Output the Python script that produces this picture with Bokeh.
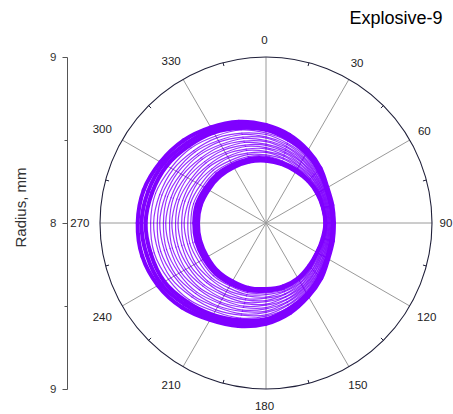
import math
import numpy as np
from bokeh.plotting import figure
from bokeh.models import Range1d, LinearAxis, FixedTicker, Label
from bokeh.embed import file_html
from bokeh.resources import INLINE
from bokeh.core.properties import value

# ---------------- data ----------------
chart_title = "Explosive-9"
radius_title = "Radius, mm"
r_min, r_max = 8.0, 9.0
radius_tick_labels = ["9", "8", "9"]          # top, centre, bottom of the radial scale
angle_ticks = [0, 30, 60, 90, 120, 150, 180, 210, 240, 270, 300, 330]
angle_labels = ["0", "30", "60", "90", "120", "150", "180", "210", "240", "270", "300", "330"]
sample_angles = [0, 15, 30, 45, 60, 75, 90, 105, 120, 135, 150, 165,
                 180, 195, 210, 225, 240, 255, 270, 285, 300, 315, 330, 345]

# radius (mm) of each recorded revolution at the sample angles
rev_01 = [8.373, 8.365, 8.357, 8.356, 8.354, 8.353, 8.355, 8.351, 8.353, 8.364, 8.382, 8.393, 8.395, 8.402, 8.403, 8.408, 8.406, 8.408, 8.407, 8.405, 8.397, 8.393, 8.385, 8.381]
rev_02 = [8.381, 8.372, 8.363, 8.360, 8.357, 8.355, 8.356, 8.356, 8.354, 8.369, 8.387, 8.400, 8.403, 8.412, 8.414, 8.420, 8.420, 8.423, 8.421, 8.419, 8.411, 8.405, 8.396, 8.391]
rev_03 = [8.391, 8.378, 8.371, 8.363, 8.362, 8.356, 8.360, 8.358, 8.358, 8.373, 8.392, 8.406, 8.411, 8.421, 8.425, 8.433, 8.434, 8.437, 8.435, 8.434, 8.424, 8.418, 8.407, 8.401]
rev_04 = [8.403, 8.387, 8.378, 8.368, 8.366, 8.359, 8.363, 8.361, 8.362, 8.379, 8.399, 8.416, 8.421, 8.434, 8.437, 8.449, 8.450, 8.456, 8.453, 8.452, 8.440, 8.434, 8.421, 8.414]
rev_05 = [8.410, 8.399, 8.384, 8.376, 8.367, 8.364, 8.364, 8.365, 8.366, 8.384, 8.405, 8.424, 8.431, 8.446, 8.451, 8.465, 8.467, 8.475, 8.471, 8.470, 8.457, 8.450, 8.434, 8.427]
rev_06 = [8.425, 8.405, 8.393, 8.379, 8.373, 8.365, 8.369, 8.366, 8.372, 8.387, 8.414, 8.429, 8.446, 8.454, 8.468, 8.476, 8.489, 8.489, 8.493, 8.484, 8.478, 8.461, 8.452, 8.436]
rev_07 = [8.432, 8.417, 8.398, 8.387, 8.374, 8.370, 8.369, 8.371, 8.374, 8.395, 8.418, 8.441, 8.453, 8.471, 8.478, 8.496, 8.502, 8.511, 8.508, 8.506, 8.490, 8.481, 8.462, 8.452]
rev_08 = [8.447, 8.424, 8.408, 8.390, 8.380, 8.371, 8.374, 8.372, 8.380, 8.398, 8.427, 8.445, 8.467, 8.479, 8.495, 8.507, 8.523, 8.525, 8.530, 8.520, 8.511, 8.492, 8.480, 8.461]
rev_09 = [8.454, 8.435, 8.413, 8.397, 8.382, 8.376, 8.375, 8.377, 8.382, 8.405, 8.431, 8.458, 8.474, 8.495, 8.505, 8.527, 8.537, 8.547, 8.545, 8.542, 8.524, 8.512, 8.490, 8.477]
rev_10 = [8.468, 8.442, 8.423, 8.401, 8.387, 8.377, 8.380, 8.379, 8.388, 8.409, 8.440, 8.462, 8.489, 8.503, 8.523, 8.538, 8.558, 8.562, 8.567, 8.556, 8.545, 8.523, 8.508, 8.486]
rev_11 = [8.475, 8.453, 8.428, 8.408, 8.389, 8.382, 8.380, 8.384, 8.390, 8.416, 8.444, 8.475, 8.495, 8.519, 8.532, 8.558, 8.571, 8.584, 8.581, 8.578, 8.558, 8.543, 8.518, 8.502]
rev_12 = [8.490, 8.461, 8.437, 8.412, 8.395, 8.383, 8.385, 8.385, 8.397, 8.419, 8.452, 8.479, 8.510, 8.527, 8.550, 8.569, 8.592, 8.598, 8.604, 8.592, 8.579, 8.554, 8.536, 8.511]
rev_13 = [8.497, 8.472, 8.443, 8.419, 8.396, 8.388, 8.386, 8.390, 8.399, 8.427, 8.457, 8.491, 8.517, 8.543, 8.559, 8.589, 8.606, 8.620, 8.618, 8.614, 8.592, 8.574, 8.546, 8.527]
rev_14 = [8.512, 8.479, 8.452, 8.423, 8.402, 8.389, 8.391, 8.391, 8.405, 8.430, 8.465, 8.496, 8.531, 8.551, 8.577, 8.600, 8.627, 8.634, 8.640, 8.628, 8.612, 8.585, 8.564, 8.536]
rev_15 = [8.519, 8.490, 8.458, 8.430, 8.404, 8.395, 8.391, 8.397, 8.407, 8.437, 8.470, 8.508, 8.538, 8.567, 8.586, 8.620, 8.640, 8.657, 8.655, 8.649, 8.625, 8.605, 8.574, 8.552]
rev_16 = [8.533, 8.497, 8.467, 8.434, 8.409, 8.396, 8.396, 8.398, 8.413, 8.440, 8.478, 8.513, 8.553, 8.575, 8.604, 8.631, 8.662, 8.671, 8.677, 8.663, 8.646, 8.616, 8.592, 8.561]
rev_17 = [8.542, 8.510, 8.474, 8.442, 8.412, 8.401, 8.398, 8.404, 8.416, 8.449, 8.484, 8.527, 8.561, 8.593, 8.616, 8.654, 8.678, 8.697, 8.695, 8.689, 8.662, 8.639, 8.605, 8.580]
rev_18 = [8.561, 8.521, 8.486, 8.448, 8.419, 8.404, 8.403, 8.406, 8.424, 8.454, 8.495, 8.535, 8.580, 8.606, 8.639, 8.672, 8.707, 8.718, 8.725, 8.710, 8.690, 8.657, 8.629, 8.593]
rev_19 = [8.577, 8.534, 8.497, 8.455, 8.424, 8.408, 8.407, 8.411, 8.429, 8.462, 8.504, 8.546, 8.595, 8.623, 8.658, 8.693, 8.731, 8.744, 8.750, 8.735, 8.713, 8.678, 8.648, 8.611]
rev_20 = [8.590, 8.549, 8.505, 8.465, 8.427, 8.414, 8.409, 8.417, 8.433, 8.471, 8.511, 8.561, 8.607, 8.643, 8.674, 8.718, 8.752, 8.772, 8.773, 8.763, 8.734, 8.703, 8.665, 8.631]

revolutions = [rev_01, rev_02, rev_03, rev_04, rev_05, rev_06, rev_07, rev_08, rev_09, rev_10,
               rev_11, rev_12, rev_13, rev_14, rev_15, rev_16, rev_17, rev_18, rev_19, rev_20]

# ---------------- layout / style ----------------
W, H = 453, 414
CX, CY = 265.5, 222.5      # pole position on the canvas (px)
PX = 166.0                 # px per mm of radius
LEFT = 67                  # x of radial axis line
FONT = "Liberation Sans"
PURPLE = "#7f00ff"
span = r_max - r_min

p = figure(width=W, height=H, output_backend="svg", toolbar_location=None,
           x_range=Range1d((LEFT - CX) / PX, (W - CX) / PX),
           y_range=Range1d((CY - H) / PX, CY / PX),
           x_axis_location=None, y_axis_location=None,
           min_border_left=LEFT, min_border_right=0, min_border_top=0, min_border_bottom=0,
           outline_line_color=None, background_fill_color="white", border_fill_color="white")
p.grid.visible = False

# radial scale on the left (top 9, centre 8, bottom 9)
tick_pos = [span, 0.0, -span]
yaxis = LinearAxis(
    ticker=FixedTicker(ticks=tick_pos, minor_ticks=[span / 2, -span / 2]),
    bounds=(-span, span),
    major_label_overrides={float(t): lab for t, lab in zip(tick_pos, radius_tick_labels)},
    major_tick_out=5, major_tick_in=0, minor_tick_out=3, minor_tick_in=0,
    axis_line_color="#555555", major_tick_line_color="#555555", minor_tick_line_color="#555555",
    major_label_text_font=FONT, major_label_text_font_size="11.5px",
    major_label_text_color="#333333", major_label_standoff=6,
    axis_label=radius_title, axis_label_standoff=18,
    axis_label_text_font=FONT, axis_label_text_font_size="15px",
    axis_label_text_font_style="normal", axis_label_text_color="#333333")
p.add_layout(yaxis, "left")

# spokes
sp = np.radians(angle_ticks)
p.segment(x0=np.zeros(len(sp)), y0=np.zeros(len(sp)), x1=span * np.sin(sp), y1=span * np.cos(sp),
          line_color="#9a9a9a", line_width=1)

# data revolutions, drawn as smooth closed curves through the samples
th = np.radians(sample_angles)
n = len(revolutions)
for i, rev in enumerate(revolutions):
    rr = np.array(rev) - r_min
    x = rr * np.sin(th)
    y = rr * np.cos(th)
    xp, yp = np.roll(x, 1), np.roll(y, 1)        # previous sample
    xn, yn = np.roll(x, -1), np.roll(y, -1)      # next sample
    xnn, ynn = np.roll(x, -2), np.roll(y, -2)
    edge = i < 3 or i >= n - 3
    p.bezier(x0=x, y0=y, x1=xn, y1=yn,
             cx0=x + (xn - xp) / 6, cy0=y + (yn - yp) / 6,
             cx1=xn - (xnn - x) / 6, cy1=yn - (ynn - y) / 6,
             line_color=PURPLE,
             line_width=(3.2 if i < 3 else 4.0) if edge else 1.2,
             line_alpha=1.0 if edge else 0.8, line_cap="round")

# outer ring and its minor ticks
p.circle(x=[0], y=[0], radius=span, fill_color=None, line_color="#20203a", line_width=1.1)
mt = np.radians([a + 15 for a in angle_ticks])
tl = 3.5 / PX
p.segment(x0=span * np.sin(mt), y0=span * np.cos(mt),
          x1=(span - tl) * np.sin(mt), y1=(span - tl) * np.cos(mt),
          line_color="#20203a", line_width=1)

# angle labels
LX, LY = 264.0, 222.5
r0, dw, hh = 175.0, 6.4, 8.0
lx, ly = [], []
for a, s in zip(angle_ticks, angle_labels):
    t = math.radians(a)
    r = r0 + dw * len(s) / 2 * abs(math.sin(t)) + hh * abs(math.cos(t))
    px = LX + r * math.sin(t)
    py = LY - r * math.cos(t)
    lx.append((px - CX) / PX)
    ly.append((CY - py) / PX)
p.text(x=lx, y=ly, text=angle_labels, text_font=value(FONT), text_font_size="11.5px",
       text_align="center", text_baseline="middle", text_color="#222222")

# chart title
p.add_layout(Label(x=(442 - CX) / PX, y=(CY - 17.5) / PX, text=chart_title,
                   text_align="right", text_baseline="middle", text_font=FONT,
                   text_font_size="18px", text_color="#000000"))

open("out.html", "w").write(file_html(p, INLINE))
